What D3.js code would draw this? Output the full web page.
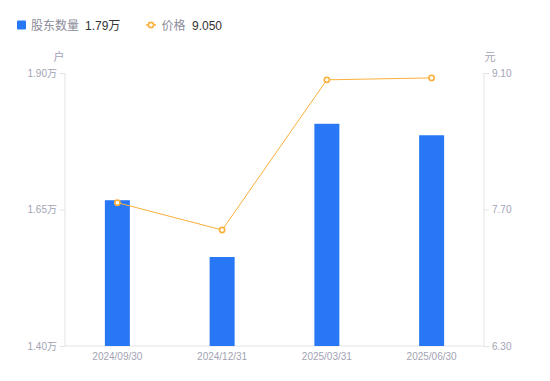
<!DOCTYPE html>
<html><head><meta charset="utf-8">
<script src="https://cdn.jsdelivr.net/npm/d3@7"></script>
<style>
html,body{margin:0;padding:0;background:#fff;}
svg{display:block;font-family:"Liberation Sans","Noto Sans CJK SC",sans-serif;}
</style></head>
<body><svg id="c" width="550" height="381"></svg>
<script>
const categories = ["2024/09/30","2024/12/31","2025/03/31","2025/06/30"];
const holders = [1.667, 1.563, 1.807, 1.786]; // 万户
const prices = [7.77, 7.49, 9.03, 9.05]; // 元
const leftTicks = [1.40, 1.65, 1.90];
const rightTicks = [6.30, 7.70, 9.10];
const legendNames = ["股东数量", "价格"];
const legendValues = ["1.79万", "9.050"];

const barColor = "#2878F5", lineColor = "#FBB03B", axisColor = "#E3E3E8", textColor = "#A3A3B3";
const svg = d3.select("#c");
const m = {l:65, r:484, t:73, b:346};

const x = d3.scaleBand().domain(categories).range([m.l, m.r]).paddingInner(0).paddingOuter(0);
const yL = d3.scaleLinear().domain([1.40, 1.90]).range([m.b, m.t]);
const yR = d3.scaleLinear().domain([6.30, 9.10]).range([m.b, m.t]);

// axes
const gL = svg.append("g").attr("transform", `translate(${m.l},0)`)
  .call(d3.axisLeft(yL).tickValues(leftTicks).tickSize(5).tickPadding(3).tickFormat(d => d.toFixed(2) + "万"));
const gR = svg.append("g").attr("transform", `translate(${m.r},0)`)
  .call(d3.axisRight(yR).tickValues(rightTicks).tickSize(5).tickPadding(3).tickFormat(d => d.toFixed(2)));
const gB = svg.append("g").attr("transform", `translate(0,${m.b})`)
  .call(d3.axisBottom(x).tickSize(0).tickPadding(7));
[gL, gR, gB].forEach(g => {
  g.selectAll(".domain").attr("stroke", axisColor);
  g.selectAll(".tick line").attr("stroke", axisColor);
  g.selectAll("text").attr("fill", textColor).attr("font-size", 10)
   .attr("font-family", '"Liberation Sans","Noto Sans CJK SC",sans-serif');
});
gL.select(".domain").attr("d", `M0,${m.t}V${m.b}`);
gR.select(".domain").attr("d", `M0,${m.t}V${m.b}`);
gB.select(".domain").attr("d", `M${m.l},0H${m.r}`);
gB.selectAll("text").attr("dy", "0.71em");

// units
svg.append("text").attr("x", 59).attr("y", 61).attr("text-anchor", "middle")
  .attr("font-size", 11).attr("fill", textColor).text("户");
svg.append("text").attr("x", 490).attr("y", 61).attr("text-anchor", "middle")
  .attr("font-size", 11).attr("fill", textColor).text("元");

// bars
const bw = 25;
svg.append("g").selectAll("rect").data(holders).join("rect")
  .attr("x", (d,i) => x(categories[i]) + x.bandwidth()/2 - bw/2)
  .attr("y", d => yL(d))
  .attr("width", bw)
  .attr("height", d => m.b - yL(d))
  .attr("fill", barColor);

// line
const line = d3.line().x((d,i) => x(categories[i]) + x.bandwidth()/2).y(d => yR(d));
svg.append("path").datum(prices).attr("d", line)
  .attr("fill", "none").attr("stroke", lineColor).attr("stroke-width", 1);
svg.append("g").selectAll("circle").data(prices).join("circle")
  .attr("cx", (d,i) => x(categories[i]) + x.bandwidth()/2)
  .attr("cy", d => yR(d)).attr("r", 2.6)
  .attr("fill", "#fff").attr("stroke", lineColor).attr("stroke-width", 1.6);

// legend
const lg = svg.append("g");
lg.append("rect").attr("x", 17).attr("y", 20.5).attr("width", 9).attr("height", 9).attr("rx", 1).attr("fill", barColor);
lg.append("text").attr("x", 31).attr("y", 29.5).attr("font-size", 12).attr("fill", "#8C8C9A").text(legendNames[0]);
lg.append("text").attr("x", 85).attr("y", 29.5).attr("font-size", 12).attr("fill", "#333").text(legendValues[0]);
lg.append("line").attr("x1", 146).attr("x2", 156).attr("y1", 25).attr("y2", 25).attr("stroke", lineColor).attr("stroke-width", 1.5);
lg.append("circle").attr("cx", 151).attr("cy", 25).attr("r", 2.6).attr("fill", "#fff").attr("stroke", lineColor).attr("stroke-width", 1.6);
lg.append("text").attr("x", 161.5).attr("y", 29.5).attr("font-size", 12).attr("fill", "#8C8C9A").text(legendNames[1]);
lg.append("text").attr("x", 192).attr("y", 29.5).attr("font-size", 12).attr("fill", "#333").text(legendValues[1]);
</script></body></html>
